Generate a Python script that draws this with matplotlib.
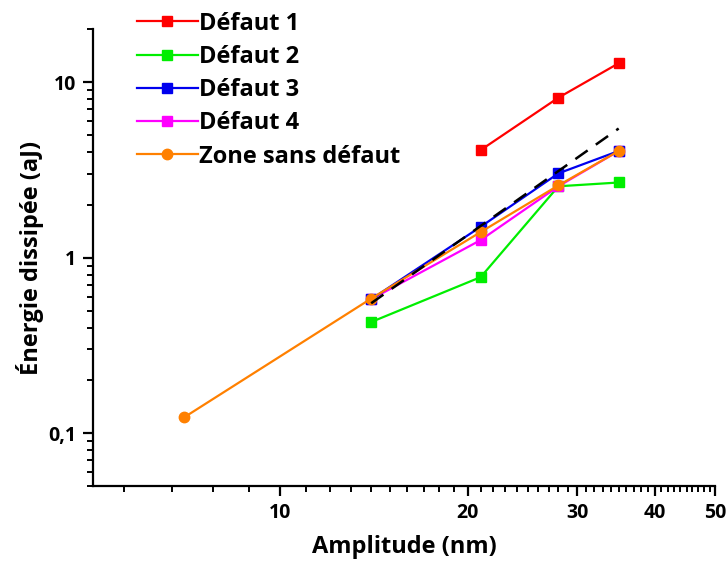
import matplotlib
matplotlib.use("Agg")
import matplotlib.pyplot as plt
from matplotlib import ticker
import numpy as np

plt.rcParams['font.family'] = ['Open Sans', 'DejaVu Sans']
plt.rcParams['font.weight'] = 'bold'

# data (amplitude in nm, energy in aJ)
amp_d1 = [21, 28, 35]
energy_d1 = [4.1, 8.15, 12.8]
amp_d = [14, 21, 28, 35]
energy_d2 = [0.43, 0.775, 2.55, 2.68]
energy_d3 = [0.58, 1.5, 3.02, 4.05]
energy_d4 = [0.58, 1.26, 2.55, 4.05]
amp_zone = [7, 14, 21, 28, 35]
energy_zone = [0.123, 0.585, 1.4, 2.58, 4.05]
fit_amp = [14, 35]
fit_energy = [0.55, 5.44]

labels = ['Défaut 1', 'Défaut 2', 'Défaut 3', 'Défaut 4', 'Zone sans défaut']

fig = plt.figure(figsize=(7.27, 5.62), dpi=100)
ax = fig.add_axes([0.128, 0.135, 0.8555, 0.813])

# dashed power-law guide drawn over the curves
ax.plot(fit_amp, fit_energy, color='black', ls=(0, (6, 4)), lw=1.8, zorder=5)
ax.plot(amp_d1, energy_d1, color='#ff0000', marker='s', ms=7, lw=1.6, label=labels[0], zorder=2)
ax.plot(amp_d, energy_d2, color='#00ee00', marker='s', ms=7, lw=1.6, label=labels[1], zorder=2)
ax.plot(amp_d, energy_d3, color='#0000ee', marker='s', ms=7, lw=1.6, label=labels[2], zorder=3)
ax.plot(amp_d, energy_d4, color='#ff00ff', marker='s', ms=7, lw=1.6, label=labels[3], zorder=2.5)
ax.plot(amp_zone, energy_zone, color='#ff8000', marker='o', ms=7.5, lw=1.6, label=labels[4], zorder=4)

ax.set_xscale('log')
ax.set_yscale('log')
ax.set_xlim(5, 50)
ax.set_ylim(0.05, 20)

ax.xaxis.set_major_locator(ticker.FixedLocator([10, 20, 30, 40, 50]))
ax.xaxis.set_major_formatter(ticker.FixedFormatter(['10', '20', '30', '40', '50']))
minor_x = [5.6, 6.7, 7.8, 8.9] + [v for v in range(11, 50) if v % 10 != 0]
ax.xaxis.set_minor_locator(ticker.FixedLocator(minor_x))
ax.xaxis.set_minor_formatter(ticker.NullFormatter())

ax.yaxis.set_major_locator(ticker.FixedLocator([0.1, 1, 10]))
ax.yaxis.set_major_formatter(ticker.FixedFormatter(['0,1', '1', '10']))
ax.yaxis.set_minor_locator(ticker.LogLocator(base=10, subs=np.arange(2, 10)))
ax.yaxis.set_minor_formatter(ticker.NullFormatter())

for s in ['top', 'right']:
    ax.spines[s].set_visible(False)
for s in ['left', 'bottom']:
    ax.spines[s].set_linewidth(1.6)
ax.tick_params(which='major', direction='out', length=7, width=1.6, labelsize=14, pad=5)
ax.tick_params(which='minor', direction='out', length=4, width=1.4)

ax.set_xlabel('Amplitude (nm)', fontsize=17, fontweight='bold', labelpad=9)
ax.set_ylabel('Énergie dissipée (aJ)', fontsize=17, fontweight='bold', labelpad=3)

leg = ax.legend(loc='upper left', bbox_to_anchor=(0.175, 0.996), bbox_transform=fig.transFigure,
                frameon=False, fontsize=17, handlelength=2.6, handletextpad=0.05,
                labelspacing=0.39, borderaxespad=0.0)
for t in leg.get_texts():
    t.set_fontweight('bold')

fig.savefig('out.png', dpi=100)
